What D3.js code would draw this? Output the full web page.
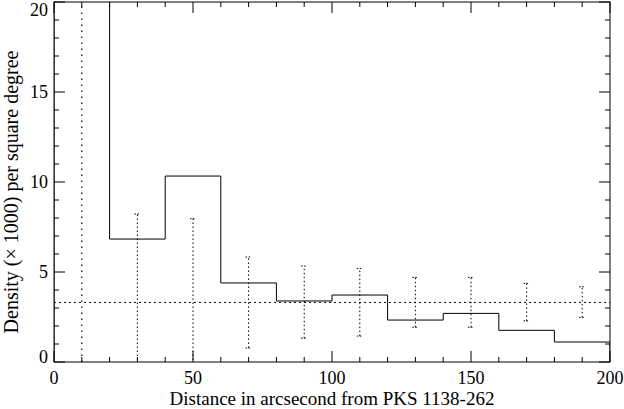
<!DOCTYPE html>
<html><head><meta charset="utf-8">
<script src="https://cdn.jsdelivr.net/npm/d3@7"></script>
<style>body{margin:0;background:#fff}svg{display:block}text{font-family:"Liberation Serif","Times New Roman",serif;fill:#000}</style>
</head><body>
<script>
// Histogram bins (left edges, width 20)
const binEdges = [0,20,40,60,80,100,120,140,160,180,200];
const density = [30,6.83,10.33,4.39,3.39,3.72,2.33,2.7,1.76,1.11];
// Error bars at bin centres
const errX = [30,50,70,90,110,130,150,170,190];
const errLow = [-1,-1,0.78,1.32,1.44,1.93,1.93,2.28,2.48];
const errHigh = [8.22,7.96,5.83,5.33,5.2,4.7,4.7,4.37,4.18];
const meanLevel = 3.31;
const markerX = 10;
const xTicks = [0,50,100,150,200];
const yTicks = [0,5,10,15,20];

const W=624,H=409;
const m={l:54,r:14,t:2,b:47};
const svg=d3.select("body").append("svg").attr("width",W).attr("height",H);
const x=d3.scaleLinear().domain([0,200]).range([m.l,W-m.r]);
const y=d3.scaleLinear().domain([0,20]).range([H-m.b,m.t]);

svg.append("clipPath").attr("id","c").append("rect")
  .attr("x",x(0)).attr("y",y(20)).attr("width",x(200)-x(0)).attr("height",y(0)-y(20));
const g=svg.append("g").attr("clip-path","url(#c)");

// histogram step line
const pts=[];
density.forEach((v,i)=>{pts.push([binEdges[i],v]);pts.push([binEdges[i+1],v]);});
pts.unshift([0,0]);pts.push([200,0]);
g.append("path").attr("d",d3.line().x(d=>x(d[0])).y(d=>y(d[1]))(pts))
  .attr("fill","none").attr("stroke","#000").attr("stroke-width",1);

// mean level & marker
g.append("line").attr("x1",x(0)).attr("x2",x(200)).attr("y1",y(meanLevel)).attr("y2",y(meanLevel))
  .attr("stroke","#000").attr("stroke-dasharray","2,3").attr("stroke-width",1);
g.append("line").attr("x1",x(markerX)).attr("x2",x(markerX)).attr("y1",y(0)).attr("y2",y(20))
  .attr("stroke","#000").attr("stroke-dasharray","1.5,4.5").attr("stroke-width",1.2);

// error bars
errX.forEach((cx,i)=>{
  const eg=g.append("g").attr("stroke","#000").attr("stroke-width",1).attr("stroke-dasharray","1.5,2.5");
  eg.append("line").attr("x1",x(cx)).attr("x2",x(cx)).attr("y1",y(errLow[i])).attr("y2",y(errHigh[i]));
  [errLow[i],errHigh[i]].forEach(v=>{
    eg.append("line").attr("x1",x(cx)-3).attr("x2",x(cx)+3).attr("y1",y(v)).attr("y2",y(v)).attr("stroke-dasharray","1.5,1.5");
  });
});

// frame
svg.append("rect").attr("x",x(0)).attr("y",y(20)).attr("width",x(200)-x(0)).attr("height",y(0)-y(20))
  .attr("fill","none").attr("stroke","#000").attr("stroke-width",1);

// ticks
const xMinor=d3.range(0,201,10), yMinor=d3.range(0,21,1);
const tk=svg.append("g").attr("stroke","#000").attr("stroke-width",1);
xMinor.forEach(v=>{
  const L=(v%50===0)?11:5;
  tk.append("line").attr("x1",x(v)).attr("x2",x(v)).attr("y1",y(0)).attr("y2",y(0)-L);
  tk.append("line").attr("x1",x(v)).attr("x2",x(v)).attr("y1",y(20)).attr("y2",y(20)+L);
});
yMinor.forEach(v=>{
  const L=(v%5===0)?11:5;
  tk.append("line").attr("x1",x(0)).attr("x2",x(0)+L).attr("y1",y(v)).attr("y2",y(v));
  tk.append("line").attr("x1",x(200)).attr("x2",x(200)-L).attr("y1",y(v)).attr("y2",y(v));
});

// tick labels
svg.selectAll(".xl").data(xTicks).enter().append("text")
  .attr("x",d=>x(d)).attr("y",y(0)+22).attr("text-anchor","middle").attr("font-size",18).text(d=>d);
svg.selectAll(".yl").data(yTicks).enter().append("text")
  .attr("x",x(0)-6).attr("y",d=>d===20?16:Math.min(y(d)+6,y(0)+1)).attr("text-anchor","end").attr("font-size",18)
  .text(d=>d);

// titles
svg.append("text").attr("x",(x(0)+x(200))/2).attr("y",H-4).attr("text-anchor","middle")
  .attr("font-size",19).text("Distance in arcsecond from PKS 1138-262");
svg.append("text").attr("transform",`translate(18,${(y(0)+y(20))/2+10})rotate(-90)`).attr("text-anchor","middle")
  .attr("font-size",20).text("Density (\u00d7 1000) per square degree");
</script>
</body></html>
